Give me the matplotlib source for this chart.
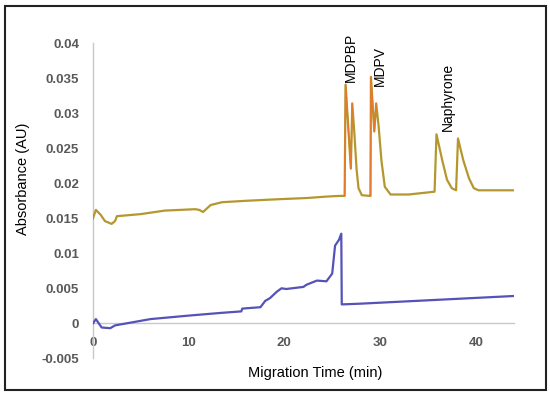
import matplotlib
matplotlib.use("Agg")
import matplotlib.pyplot as plt
import numpy as np
from matplotlib.patches import Rectangle

plt.rcParams["font.family"] = ["Liberation Sans", "DejaVu Sans"]

# Gold (upper) electropherogram
gold_t = [0, 0.3, 0.8, 1.25, 1.95, 2.3, 2.5, 5, 7.5, 10.7, 11.1, 11.5, 12.3, 13.5, 16, 19,
          22.4, 24.4, 25.8, 26.3, 26.4, 26.95, 27.1, 27.3, 27.55, 27.75, 28.1, 28.9, 29.0, 29.05,
          29.4, 29.6, 29.85, 30.15, 30.5, 31.1, 33, 35.7, 35.9, 36.5, 37.0, 37.5, 37.95, 38.15,
          38.7, 39.3, 39.8, 40.3, 44]
gold_v = [0.0150, 0.0162, 0.0155, 0.0146, 0.0142, 0.0146, 0.0153, 0.0156, 0.0161, 0.0163,
          0.0162, 0.0159, 0.0169, 0.0173, 0.0175, 0.0177, 0.0179, 0.0181, 0.0182, 0.0182,
          0.0341, 0.0221, 0.0314, 0.0275, 0.0220, 0.0193, 0.0183, 0.0182, 0.0182, 0.0352, 0.0274,
          0.0314, 0.0282, 0.0232, 0.0195, 0.0184, 0.0184, 0.0188, 0.0270, 0.0233, 0.0205, 0.0193,
          0.0190, 0.0264, 0.0233, 0.0207, 0.0193, 0.0190, 0.0190]

# Blue (lower) electropherogram
blue_t = [0, 0.3, 0.9, 1.8, 2.3, 6, 10, 13.5, 15.5, 15.6, 17.5, 18.0, 18.5, 19.2, 19.7,
          20.2, 22.0, 22.3, 23.4, 24.4, 25.0, 25.3, 25.7, 25.95, 26.0, 27.9, 44]
blue_v = [0.0, 0.0006, -0.0006, -0.0007, -0.0003, 0.0006, 0.0011, 0.0015, 0.0017, 0.0021,
          0.0023, 0.0032, 0.0036, 0.0045, 0.0050, 0.0049, 0.0052, 0.0055, 0.0061, 0.0060,
          0.0071, 0.0111, 0.0119, 0.0128, 0.0027, 0.0028, 0.0039]

x_ticks = [0, 10, 20, 30, 40]
y_ticks = [-0.005, 0, 0.005, 0.01, 0.015, 0.02, 0.025, 0.03, 0.035, 0.04]
y_tick_labels = ["-0.005", "0", "0.005", "0.01", "0.015", "0.02", "0.025", "0.03", "0.035", "0.04"]

peak_labels = ["MDPBP", "MDPV", "Naphyrone"]
peak_label_x = [27.0, 30.0, 37.1]
peak_label_y = [0.0345, 0.0339, 0.0275]

fig = plt.figure(figsize=(5.5, 3.96), dpi=100)
ax = fig.add_axes([0.1691, 0.0952, 0.7654, 0.7955])

gt = np.array(gold_t)
gv = np.array(gold_v)
ax.plot(gt, gv, color="#B5972F", lw=1.6, solid_joinstyle="round", zorder=3)
for lo, hi in [(26.3, 27.1), (29.0, 29.6)]:
    m = (gt >= lo) & (gt <= hi)
    ax.plot(gt[m], gv[m], color="#E57A2C", lw=1.0, zorder=4)
ax.plot(blue_t, blue_v, color="#5552B8", lw=1.6, solid_joinstyle="round", zorder=3)

ax.set_xlim(0, 44)
ax.set_ylim(-0.005, 0.04)
ax.set_xticks(x_ticks)
ax.set_yticks(y_ticks)
ax.set_yticklabels(y_tick_labels)

for s in ["top", "right"]:
    ax.spines[s].set_visible(False)
ax.spines["bottom"].set_position(("data", 0))
ax.spines["bottom"].set_color("#c8c8c8")
ax.spines["left"].set_color("#c8c8c8")
ax.spines["bottom"].set_linewidth(1.0)
ax.spines["left"].set_linewidth(1.0)
ax.spines["bottom"].set_zorder(1)

ax.tick_params(axis="both", length=0, labelsize=9.5, labelcolor="#595959")
ax.tick_params(axis="x", pad=10)
ax.tick_params(axis="y", pad=10)
for lab in ax.get_xticklabels() + ax.get_yticklabels():
    lab.set_fontweight("bold")

for name, x, y in zip(peak_labels, peak_label_x, peak_label_y):
    ax.text(x, y, name, rotation=90, ha="center", va="bottom", fontsize=10, color="black")

fig.text(315 / 550, 1 - 373 / 396, "Migration Time (min)", ha="center", va="center", fontsize=10.5, color="black")
fig.text(23 / 550, 1 - 179 / 396, "Absorbance (AU)", ha="center", va="center", rotation=90, fontsize=10.5, color="black")

fig.patches.append(Rectangle((5 / 550, 1 - 390 / 396), 541 / 550, 384 / 396, transform=fig.transFigure,
                             fill=False, edgecolor="#222222", lw=1.5))

fig.savefig("out.png", dpi=100)
